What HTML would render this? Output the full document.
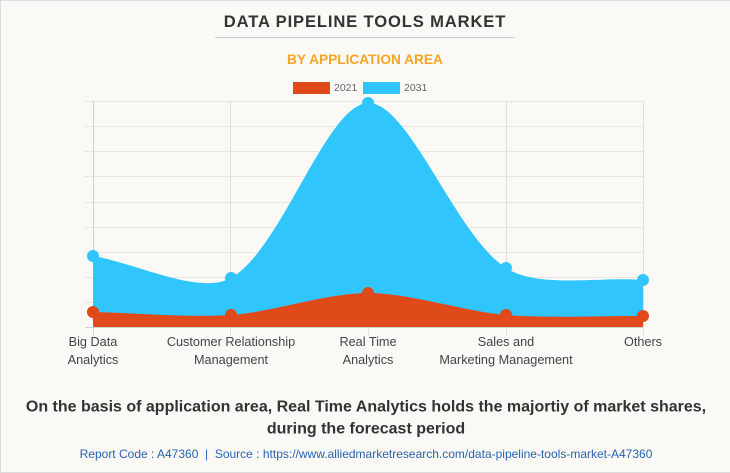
<!DOCTYPE html>
<html><head><meta charset="utf-8"><style>
html,body{margin:0;padding:0;background:#faf9f5;}
svg{display:block;font-family:"Liberation Sans",Arial,sans-serif;}
</style></head><body>
<svg width="730" height="473" viewBox="0 0 730 473" xmlns="http://www.w3.org/2000/svg">
<rect x="0" y="0" width="730" height="473" fill="#faf9f5"/>
<line x1="0" y1="0.5" x2="730" y2="0.5" stroke="#dcdcdc"/>
<line x1="0.5" y1="0" x2="0.5" y2="473" stroke="#dcdcdc"/>
<line x1="0" y1="472.5" x2="730" y2="472.5" stroke="#dcdcdc"/>

<text x="365" y="27" text-anchor="middle" font-size="16.6" font-weight="bold" fill="#333" letter-spacing="0.85">DATA PIPELINE TOOLS MARKET</text>
<line x1="215" y1="37.5" x2="515" y2="37.5" stroke="#cfcfcf"/>
<text x="365" y="64" text-anchor="middle" font-size="13.7" font-weight="bold" fill="#f5a623">BY APPLICATION AREA</text>

<rect x="293" y="82" width="37" height="12" fill="#e0491a"/>
<text x="334" y="91" font-size="10.5" fill="#666">2021</text>
<rect x="363" y="82" width="37" height="12" fill="#31c5fe"/>
<text x="404" y="91" font-size="10.5" fill="#666">2031</text>

<g stroke="#e6e6e4" stroke-width="1">
<line x1="85" y1="101.5" x2="643" y2="101.5"/>
<line x1="85" y1="126.5" x2="643" y2="126.5"/>
<line x1="85" y1="151.5" x2="643" y2="151.5"/>
<line x1="85" y1="176.5" x2="643" y2="176.5"/>
<line x1="85" y1="202.5" x2="643" y2="202.5"/>
<line x1="85" y1="227.5" x2="643" y2="227.5"/>
<line x1="85" y1="252.5" x2="643" y2="252.5"/>
<line x1="85" y1="277.5" x2="643" y2="277.5"/>
<line x1="85" y1="302.5" x2="643" y2="302.5"/>
</g>
<g stroke="#e0e0de" stroke-width="1">
<line x1="230.5" y1="101" x2="230.5" y2="335"/>
<line x1="368.5" y1="101" x2="368.5" y2="335"/>
<line x1="506.5" y1="101" x2="506.5" y2="335"/>
<line x1="643.5" y1="101" x2="643.5" y2="335"/>
</g>
<line x1="93.5" y1="101" x2="93.5" y2="335" stroke="#cfcfcf"/>
<line x1="85" y1="327.5" x2="643" y2="327.5" stroke="#cfcfcf"/>

<path d="M93,256 C134.4,262.6 199.2,295.8 231,278 C281.7,249.6 326.1,104.5 368,103 C408.6,101.5 455.6,235.4 506,268 C538.1,288.8 601.9,276.4 643,280 L643,327 L93,327 Z" fill="#31c5fe"/>
<g fill="#31c5fe">
<circle cx="93" cy="256" r="6"/>
<circle cx="231" cy="278" r="6"/>
<circle cx="368" cy="103" r="6"/>
<circle cx="506" cy="268" r="6"/>
<circle cx="643" cy="280" r="6"/>
</g>

<path d="M93,312 C134.4,312.9 189.9,317.8 231,315 C272.4,312.1 326.9,293 368,293 C409.4,293 464.3,311.5 506,315 C546.8,318.4 601.9,315.7 643,316 L643,327 L93,327 Z" fill="#e0491a"/>
<g fill="#e0491a">
<circle cx="93" cy="312" r="6"/>
<circle cx="231" cy="315" r="6"/>
<circle cx="368" cy="293" r="6"/>
<circle cx="506" cy="315" r="6"/>
<circle cx="643" cy="316" r="6"/>
</g>

<g font-size="12.7" fill="#444" text-anchor="middle">
<text x="93" y="346">Big Data</text>
<text x="93" y="364">Analytics</text>
<text x="231" y="346">Customer Relationship</text>
<text x="231" y="364">Management</text>
<text x="368" y="346">Real Time</text>
<text x="368" y="364">Analytics</text>
<text x="506" y="346">Sales and</text>
<text x="506" y="364">Marketing Management</text>
<text x="643" y="346">Others</text>
</g>

<g font-size="16" font-weight="bold" fill="#333" text-anchor="middle">
<text x="366" y="411.5">On the basis of application area, Real Time Analytics holds the majortiy of market shares,</text>
<text x="366" y="433.5">during the forecast period</text>
</g>
<text x="366" y="458" text-anchor="middle" font-size="12" fill="#2a62b0" xml:space="preserve">Report Code : A47360  |  Source : https://www.alliedmarketresearch.com/data-pipeline-tools-market-A47360</text>
</svg>
</body></html>
